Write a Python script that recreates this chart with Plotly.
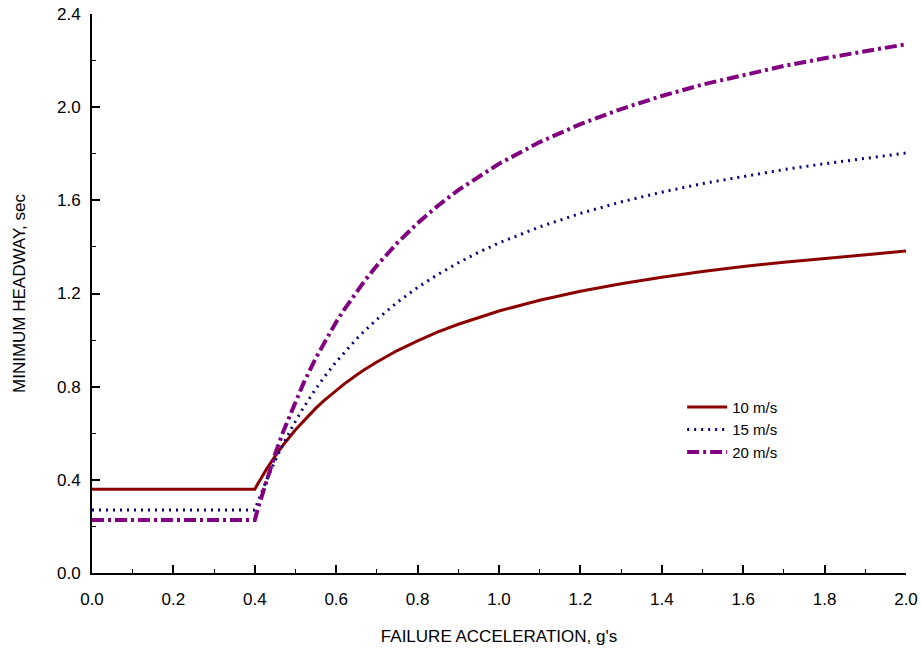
import plotly.graph_objects as go

accel = [0.0, 0.4, 0.41, 0.42, 0.43, 0.45, 0.47, 0.5, 0.52, 0.55, 0.57, 0.6, 0.62, 0.65,
         0.67, 0.7, 0.75, 0.8, 0.85, 0.9, 0.95, 1.0,
         1.1, 1.2, 1.3, 1.4, 1.5, 1.6, 1.7, 1.8, 1.9, 2.0]
h10 = [0.36, 0.36, 0.391, 0.421, 0.449, 0.502, 0.550, 0.615, 0.654, 0.708, 0.740, 0.785, 0.812, 0.850,
       0.874, 0.906, 0.955, 0.997, 1.035, 1.068, 1.098, 1.125,
       1.171, 1.210, 1.242, 1.270, 1.294, 1.316, 1.334, 1.351, 1.366, 1.382]
h15 = [0.27, 0.27, 0.317, 0.361, 0.403, 0.482, 0.555, 0.652, 0.711, 0.791, 0.840, 0.907, 0.948, 1.005,
       1.040, 1.089, 1.162, 1.226, 1.282, 1.332, 1.377, 1.417,
       1.486, 1.544, 1.593, 1.635, 1.672, 1.703, 1.732, 1.757, 1.780, 1.803]
h20 = [0.228, 0.228, 0.290, 0.349, 0.406, 0.511, 0.608, 0.738, 0.816, 0.923, 0.988, 1.078, 1.132, 1.208,
       1.255, 1.320, 1.417, 1.502, 1.577, 1.644, 1.703, 1.757,
       1.850, 1.927, 1.992, 2.048, 2.097, 2.139, 2.177, 2.210, 2.240, 2.270]
names = ["10 m/s", "15 m/s", "20 m/s"]
xticks = [0.0, 0.2, 0.4, 0.6, 0.8, 1.0, 1.2, 1.4, 1.6, 1.8, 2.0]
yticks = [0.0, 0.4, 0.8, 1.2, 1.6, 2.0, 2.4]

FONT = "Liberation Sans, Arial, sans-serif"

fig = go.Figure()
fig.add_trace(go.Scatter(x=accel, y=h10, name=names[0], mode="lines",
                         line=dict(color="#8B0000", width=3, dash="solid")))
fig.add_trace(go.Scatter(x=accel, y=h15, name=names[1], mode="lines",
                         line=dict(color="#00007F", width=3, dash="2px,5px")))
fig.add_trace(go.Scatter(x=accel, y=h20, name=names[2], mode="lines",
                         line=dict(color="#800080", width=4, dash="12px,4px,3px,4px")))

axis_common = dict(
    showgrid=False, zeroline=False, showline=True, linecolor="black", linewidth=2,
    ticks="inside", ticklen=8, tickwidth=1.5, tickcolor="black",
    tickfont=dict(family=FONT, size=17, color="black"),
    mirror=False,
)

fig.update_xaxes(range=[0, 2.0], tickvals=xticks, ticktext=[f"{v:.1f}" for v in xticks],
                 minor=dict(dtick=0.1, ticks="inside", ticklen=4, tickwidth=1, tickcolor="black"),
                 title=dict(text="FAILURE ACCELERATION, g's", font=dict(family=FONT, size=17, color="black"),
                            standoff=22),
                 ticklabelstandoff=10,
                 **axis_common)
fig.update_yaxes(range=[0, 2.4], tickvals=yticks, ticktext=[f"{v:.1f}" for v in yticks],
                 minor=dict(dtick=0.2, ticks="inside", ticklen=4, tickwidth=1, tickcolor="black"),
                 title=dict(text="MINIMUM HEADWAY, sec", font=dict(family=FONT, size=17, color="black"),
                            standoff=27),
                 ticklabelstandoff=6,
                 **axis_common)

fig.update_layout(
    width=922, height=652,
    margin=dict(l=92, r=16, t=14, b=79, autoexpand=False),
    paper_bgcolor="white", plot_bgcolor="white",
    showlegend=True,
    legend=dict(x=0.725, y=0.326, xanchor="left", yanchor="top",
                font=dict(family=FONT, size=15, color="black"),
                bgcolor="rgba(0,0,0,0)", itemwidth=40, tracegroupgap=0),
)

fig.write_html("out.html", config={"displayModeBar": False},
               post_script="document.body.style.margin='0';")
